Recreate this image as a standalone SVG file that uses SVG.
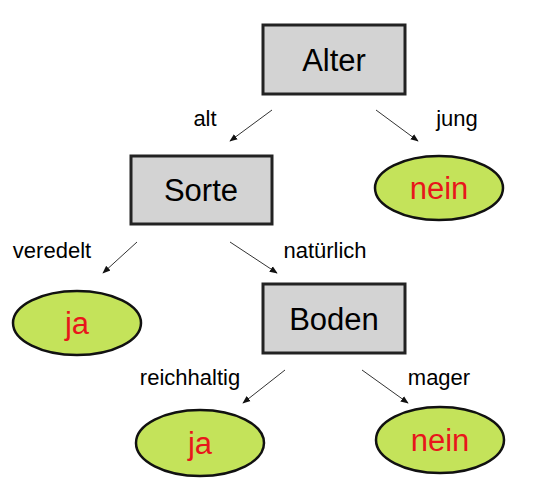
<svg xmlns="http://www.w3.org/2000/svg" width="540" height="495" viewBox="0 0 540 495">
<style>
.box{fill:#d3d3d3;stroke:#222;stroke-width:3}
.leaf{fill:#c4e35a;stroke:#111;stroke-width:2.5}
.t{font-family:"Liberation Sans",Arial,sans-serif;font-size:31px;text-anchor:middle}
.r{fill:#e8161b}
.l{font-family:"Liberation Sans",Arial,sans-serif;font-size:22px;text-anchor:middle}
.c{stroke:#333;stroke-width:1;fill:none;marker-end:url(#a)}
</style>
<defs><marker id="a" viewBox="0 0 10 10" refX="9" refY="5" markerWidth="8" markerHeight="8" orient="auto"><path d="M0,1 L10,5 L0,9 z" fill="#111"/></marker></defs>
<rect width="540" height="495" fill="#fff"/>
<g id="connectors">
<line class="c" x1="272" y1="110" x2="230" y2="141"/>
<line class="c" x1="376" y1="110" x2="418" y2="141"/>
<line class="c" x1="137" y1="242" x2="103" y2="273"/>
<line class="c" x1="230" y1="242" x2="277" y2="273"/>
<line class="c" x1="285" y1="370" x2="243" y2="403"/>
<line class="c" x1="362" y1="370" x2="408" y2="403"/>
</g>
<g id="labels">
<text class="l" x="205" y="126">alt</text>
<text class="l" x="457" y="126">jung</text>
<text class="l" x="52" y="258">veredelt</text>
<text class="l" x="325" y="258">natürlich</text>
<text class="l" x="190" y="385">reichhaltig</text>
<text class="l" x="439" y="385">mager</text>
</g>
<g id="alter"><rect class="box" x="263" y="25" width="142" height="69"/><text class="t" x="334" y="71">Alter</text></g>
<g id="sorte"><rect class="box" x="131" y="156" width="141" height="68"/><text class="t" x="201" y="201">Sorte</text></g>
<g id="boden"><rect class="box" x="263" y="284" width="142" height="69"/><text class="t" x="334" y="330">Boden</text></g>
<g id="nein1"><ellipse class="leaf" cx="439" cy="188" rx="64" ry="32"/><text class="t r" x="439" y="199">nein</text></g>
<g id="ja1"><ellipse class="leaf" cx="77" cy="323" rx="64" ry="32"/><text class="t r" x="77" y="334">ja</text></g>
<g id="ja2"><ellipse class="leaf" cx="200" cy="443" rx="64" ry="33"/><text class="t r" x="200" y="454">ja</text></g>
<g id="nein2"><ellipse class="leaf" cx="440" cy="440" rx="64" ry="33"/><text class="t r" x="440" y="451">nein</text></g>
</svg>
